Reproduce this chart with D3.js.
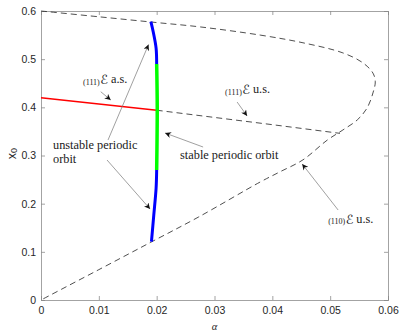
<!DOCTYPE html>
<html>
<head>
<meta charset="utf-8">
<script src="https://cdn.jsdelivr.net/npm/d3@7"></script>
<style>
  body { margin: 0; background: #fff; }
  .tick text { font-family: "Liberation Sans", Arial, sans-serif; font-size: 10.5px; fill: #262626; }
  .note { font-family: "Liberation Serif", "DejaVu Serif", serif; font-size: 12.3px; fill: #1a1a1a; }
</style>
</head>
<body>
<div id="chart"></div>
<script>
// axis ticks
var alphaTicks = [0, 0.01, 0.02, 0.03, 0.04, 0.05, 0.06];
var x0Ticks = [0, 0.1, 0.2, 0.3, 0.4, 0.5, 0.6];

// (110) / (111) equilibrium fold: [alpha, x0]
var foldBranch = [
  [0, 0.600], [0.01, 0.588], [0.02, 0.576], [0.0275, 0.567], [0.0379, 0.550],
  [0.0453, 0.534], [0.0522, 0.513], [0.0557, 0.492], [0.0574, 0.471], [0.0578, 0.453],
  [0.0574, 0.430], [0.0564, 0.399], [0.0547, 0.374], [0.0522, 0.353], [0.0495, 0.332],
  [0.0453, 0.291], [0.0413, 0.266], [0.0379, 0.245], [0.0272, 0.172], [0.019, 0.120],
  [0.01, 0.063], [0, 0]
];

// (111) branch: stable part (red) and unstable part (dashed)
var stable111 = [[0, 0.420], [0.01, 0.407], [0.02, 0.394]];
var unstable111 = [[0.02, 0.394], [0.03, 0.379], [0.04, 0.364], [0.0517, 0.346]];

// periodic orbit branch
var orbitUpper = [[0.0190, 0.578], [0.0194, 0.557], [0.0199, 0.523], [0.0200, 0.490]];
var orbitStable = [[0.0200, 0.490], [0.0201, 0.400], [0.0200, 0.270]];
var orbitLower = [[0.0200, 0.270], [0.0199, 0.232], [0.0195, 0.176], [0.0191, 0.121]];

// annotation arrows [tailAlpha, tailX0, headAlpha, headX0]
var arrows = [
  [0.01033, 0.4324, 0.01206, 0.4152],
  [0.01159, 0.3322, 0.0186, 0.5304],
  [0.01142, 0.2906, 0.01886, 0.1889],
  [0.02803, 0.3176, 0.02145, 0.3467],
  [0.03391, 0.4110, 0.03564, 0.3820],
  [0.05138, 0.1868, 0.04516, 0.2823]
];

drawChart();

function drawChart() {
    var margin = {top: 11, right: 15, bottom: 33, left: 41},
        width = 403 - margin.left - margin.right,
        height = 333 - margin.top - margin.bottom;

    var x = d3.scaleLinear().domain([0, 0.06]).range([0, width]);
    var y = d3.scaleLinear().domain([0, 0.6]).range([height, 0]);

    var line = d3.line()
        .x(function(d) { return x(d[0]); })
        .y(function(d) { return y(d[1]); });
    var smooth = d3.line()
        .x(function(d) { return x(d[0]); })
        .y(function(d) { return y(d[1]); })
        .curve(d3.curveCatmullRom.alpha(0.5));

    var svg = d3.select("#chart").append("svg")
        .attr("width", 403)
        .attr("height", 333);

    var defs = svg.append("defs");
    defs.append("marker")
        .attr("id", "head")
        .attr("viewBox", "0 0 10 10")
        .attr("refX", 10).attr("refY", 5)
        .attr("markerUnits", "userSpaceOnUse")
        .attr("markerWidth", 7).attr("markerHeight", 6)
        .attr("orient", "auto")
      .append("path")
        .attr("d", "M0,0 L10,5 L0,10 L3,5 Z")
        .attr("fill", "#111");

    var g = svg.append("g")
        .attr("transform", "translate(" + margin.left + "," + margin.top + ")");

    // axes, matlab style with inward ticks all round
    g.append("g")
        .attr("transform", "translate(0," + height + ")")
        .call(d3.axisBottom(x).tickValues(alphaTicks).tickSize(-4).tickPadding(7)
            .tickFormat(function(d) { return d === 0 ? "0" : d3.format(".2f")(d); }));
    g.append("g")
        .call(d3.axisLeft(y).tickValues(x0Ticks).tickSize(-4).tickPadding(5)
            .tickFormat(function(d) { return d === 0 ? "0" : d3.format(".1f")(d); }));
    g.append("g")
        .call(d3.axisTop(x).tickValues(alphaTicks).tickSize(-4).tickFormat(""));
    g.append("g")
        .attr("transform", "translate(" + width + ",0)")
        .call(d3.axisRight(y).tickValues(x0Ticks).tickSize(-4).tickFormat(""));
    g.selectAll(".domain, .tick line").attr("stroke", "#8c8c8c").attr("stroke-width", 0.8);

    // dashed unstable equilibria
    g.append("path")
        .data([foldBranch])
        .attr("fill", "none")
        .attr("stroke", "#222")
        .attr("stroke-width", 0.8)
        .attr("stroke-dasharray", "6,4")
        .attr("d", smooth);
    g.append("path")
        .data([unstable111])
        .attr("fill", "none")
        .attr("stroke", "#222")
        .attr("stroke-width", 0.8)
        .attr("stroke-dasharray", "6,4")
        .attr("d", line);

    // stable (111) branch
    g.append("path")
        .data([stable111])
        .attr("fill", "none")
        .attr("stroke", "#ff0000")
        .attr("stroke-width", 1.4)
        .attr("d", line);

    // periodic orbits
    g.append("path")
        .data([orbitUpper])
        .attr("fill", "none")
        .attr("stroke", "#0000ff")
        .attr("stroke-width", 3)
        .attr("d", smooth);
    g.append("path")
        .data([orbitLower])
        .attr("fill", "none")
        .attr("stroke", "#0000ff")
        .attr("stroke-width", 3)
        .attr("d", smooth);
    g.append("path")
        .data([orbitStable])
        .attr("fill", "none")
        .attr("stroke", "#00ff00")
        .attr("stroke-width", 3.5)
        .attr("d", smooth);

    // arrows
    g.selectAll(".arrow")
        .data(arrows)
      .enter().append("line")
        .attr("class", "arrow")
        .attr("x1", function(d) { return x(d[0]); })
        .attr("y1", function(d) { return y(d[1]); })
        .attr("x2", function(d) { return x(d[2]); })
        .attr("y2", function(d) { return y(d[3]); })
        .attr("stroke", "#777")
        .attr("stroke-width", 0.7)
        .attr("marker-end", "url(#head)");

    // labels
    function eLabel(a, v, sub, rest) {
        var t = g.append("text").attr("class", "note")
            .attr("x", x(a)).attr("y", y(v));
        t.append("tspan").attr("font-size", "8px").attr("dy", 1.5).text(sub);
        t.append("tspan").attr("font-family", "DejaVu Sans, sans-serif")
            .attr("font-size", "12.5px").attr("dy", -0.5).attr("dx", 0.5).text("\u2130");
        t.append("tspan").attr("dy", -1).text(" " + rest);
    }
    eLabel(0.00727, 0.4505, "(111)", "a.s.");
    eLabel(0.03183, 0.4297, "(111)", "u.s.");
    eLabel(0.04965, 0.1599, "(110)", "u.s.");

    g.append("text").attr("class", "note")
        .attr("x", x(0.00208)).attr("y", y(0.3135)).text("unstable periodic");
    g.append("text").attr("class", "note")
        .attr("x", x(0.00208)).attr("y", y(0.2844)).text("orbit");
    g.append("text").attr("class", "note")
        .attr("x", x(0.02405)).attr("y", y(0.2927)).text("stable periodic orbit");

    // axis titles
    svg.append("text")
        .attr("x", margin.left + width / 2)
        .attr("y", 330)
        .attr("text-anchor", "middle")
        .attr("font-family", "Liberation Serif, serif")
        .attr("font-style", "italic")
        .attr("font-size", "10.5px")
        .attr("fill", "#262626")
        .text("\u03b1");
    var yl = svg.append("text")
        .attr("transform", "translate(15.5," + (margin.top + height / 2 - 2) + ") rotate(-90)")
        .attr("text-anchor", "middle")
        .attr("font-family", "Liberation Sans, Arial, sans-serif")
        .attr("font-size", "12.5px")
        .attr("fill", "#262626");
    yl.append("tspan").text("x");
    yl.append("tspan").attr("font-size", "9px").attr("dy", 1.5).text("0");
}
</script>
</body>
</html>
